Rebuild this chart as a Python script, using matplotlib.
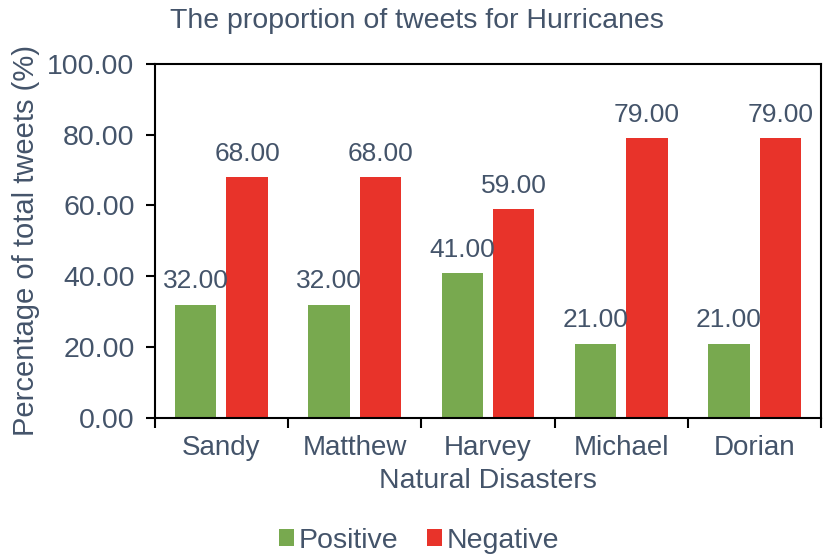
import numpy as np
import matplotlib.pyplot as plt

disasters = ['Sandy', 'Matthew', 'Harvey', 'Michael', 'Dorian']
positive = [32, 32, 41, 21, 21]
negative = [68, 68, 59, 79, 79]

txt = '#44546A'
green = '#78A94F'
red = '#E8332A'

plt.rcParams['font.family'] = ['Liberation Sans', 'DejaVu Sans']

fig = plt.figure(figsize=(8.23, 5.55), dpi=100)
ax = fig.add_axes([0.188, 0.247, 0.810, 0.638])

x = np.arange(len(disasters))
w = 0.31
gap = 0.075
b1 = ax.bar(x - (w + gap) / 2, positive, w, color=green, label='Positive')
b2 = ax.bar(x + (w + gap) / 2, negative, w, color=red, label='Negative')

for bars in (b1, b2):
    for r in bars:
        ax.annotate('%.2f' % r.get_height(), (r.get_x() + r.get_width() / 2, r.get_height()),
                    xytext=(0, 8), textcoords='offset points', ha='center', va='bottom',
                    fontsize=19, color=txt)

ax.set_xlim(-0.5, len(disasters) - 0.5)
ax.set_ylim(0, 100)
ax.set_yticks(np.arange(0, 101, 20))
ax.set_yticklabels(['%.2f' % v for v in np.arange(0, 101, 20)])
ax.set_xticks(x)
ax.set_xticklabels(disasters)
ax.set_xticks(np.arange(-0.5, len(disasters), 1), minor=True)
ax.tick_params(axis='x', which='major', length=0, labelsize=20, labelcolor=txt, pad=12)
ax.tick_params(axis='x', which='minor', length=7, width=1.5, direction='out')
ax.tick_params(axis='y', length=6.5, width=1.5, labelsize=20.5, labelcolor=txt, pad=8)
for s in ax.spines.values():
    s.set_linewidth(1.5)

ax.set_xlabel('Natural Disasters', fontsize=20.5, color=txt, labelpad=5)
ax.set_ylabel('Percentage of total tweets (%)', fontsize=21, color=txt, labelpad=5)
fig.text(0.507, 0.962, 'The proportion of tweets for Hurricanes', ha='center', va='center',
         fontsize=20.5, color=txt)

fig.legend(handles=[b1, b2], loc='center', bbox_to_anchor=(0.509, 0.026), ncol=2,
           frameon=False, fontsize=20.5, labelcolor=txt, handlelength=0.55, handleheight=0.55,
           handletextpad=0.15, columnspacing=1.0)

fig.savefig('out.png', dpi=100)
